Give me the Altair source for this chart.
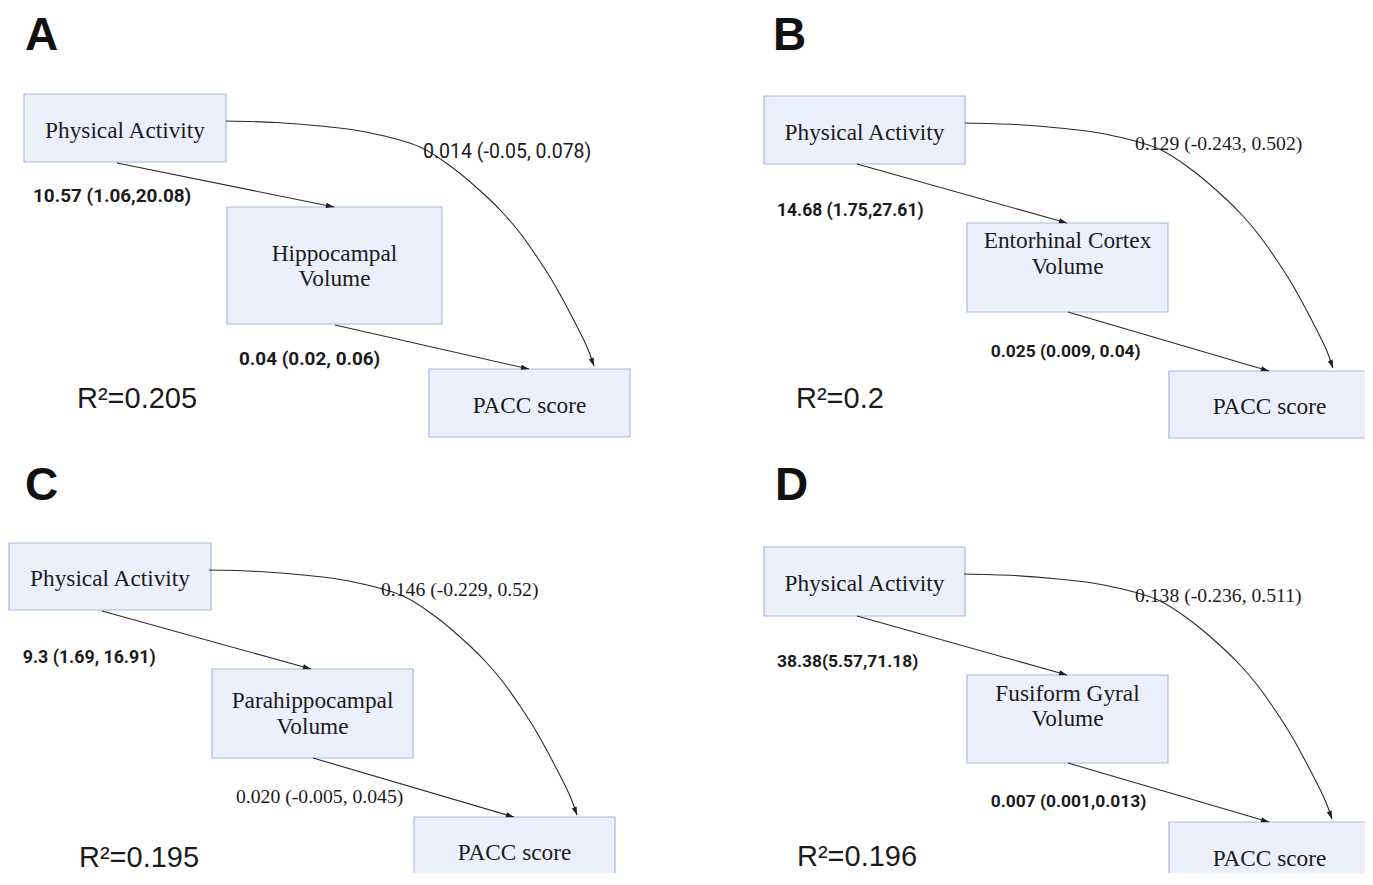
import math
import altair as alt
import pandas as pd

# ---------------- content ----------------
panel_letters = ["A", "B", "C", "D"]
predictor_label = "Physical Activity"
mediator_labels = ["Hippocampal\nVolume", "Entorhinal Cortex\nVolume",
                   "Parahippocampal\nVolume", "Fusiform Gyral\nVolume"]
outcome_label = "PACC score"
path_a_text = ["10.57 (1.06,20.08)", "14.68 (1.75,27.61)", "9.3 (1.69, 16.91)", "38.38(5.57,71.18)"]
path_b_text = ["0.04 (0.02, 0.06)", "0.025 (0.009, 0.04)", "0.020 (-0.005, 0.045)", "0.007 (0.001,0.013)"]
path_c_text = ["0.014 (-0.05, 0.078)", "0.129 (-0.243, 0.502)", "0.146 (-0.229, 0.52)", "0.138 (-0.236, 0.511)"]
r2_values = ["0.205", "0.2", "0.195", "0.196"]
path_a_style = ["bold", "bold", "bold", "bold"]
path_b_style = ["bold", "bold", "serif", "bold"]
path_c_style = ["sans", "serif", "serif", "serif"]

# ---------------- layout (pixel positions / sizes in the figure) ----------------
letter_pos = [(25, 50), (773, 50), (25, 500), (775, 500)]
pred_box = [(24, 94, 226, 162), (764, 96, 965, 164), (9, 543, 211, 610), (764, 547, 965, 616)]
med_box = [(227, 207, 442, 324), (967, 223, 1168, 312), (212, 669, 413, 758), (967, 675, 1168, 763)]
out_box = [(429, 369, 630, 437), (1169, 371, 1370, 438), (414, 817, 615, 884), (1169, 822, 1370, 884)]
pred_baseline = [137.5, 139.5, 586, 591]
med_baselines = [(261, 286), (248, 274), (708, 734), (700.7, 726)]
out_baseline = [412.7, 414, 859.5, 866]
arrow_a = [((117, 163), (334, 207)), ((857, 164), (1067, 223)),
           ((102, 611), (311, 669)), ((857, 616), (1067, 675))]
arrow_b = [((335, 325), (529, 369)), ((1068, 312), (1269, 371)),
           ((313, 758), (514, 817)), ((1068, 763), (1269, 822))]
curve_start = [(226, 121), (965, 123), (209, 570), (964, 574)]
curve_shape = [(0, 0), (50, 1.5), (94, 5), (140, 11), (194, 26), (227, 47), (261, 76),
               (277, 92), (294, 112), (311, 136), (327, 161), (344, 192), (361, 226), (368, 245)]
label_a_pos = [(33, 202), (777, 216), (22.7, 662.7), (777, 667)]
label_b_pos = [(239, 365), (990.7, 356.7), (236, 802.5), (990.7, 807.3)]
label_c_pos = [(423, 158), (1135, 150), (381, 595.7), (1135, 601.7)]
label_a_size = [18.9, 17.5, 17.8, 17.4]
label_b_size = [18.9, 17.4, 19.7, 17.4]
label_c_size = [19.5, 19.7, 19.7, 19.7]
r2_pos = [(77, 408), (796, 408), (79, 867), (797, 866)]

INK = "#1b1b1b"
FILL = "#ECF0FD"
EDGE = "#A8B8E4"
SERIF = "Liberation Serif"
SANS = "Roboto"

# ---------------- tables ----------------
boxes = []
for i in range(4):
    for b in (pred_box[i], med_box[i], out_box[i]):
        boxes.append(dict(x=b[0], y=b[1], x2=b[2], y2=b[3]))
boxes = pd.DataFrame(boxes)

node_text = []
for i in range(4):
    pb = pred_box[i]
    node_text.append(dict(x=(pb[0] + pb[2]) / 2, y=pred_baseline[i], t=predictor_label))
    mb = med_box[i]
    for line, yb in zip(mediator_labels[i].split("\n"), med_baselines[i]):
        node_text.append(dict(x=(mb[0] + mb[2]) / 2, y=yb, t=line))
    ob = out_box[i]
    node_text.append(dict(x=(ob[0] + ob[2]) / 2, y=out_baseline[i], t=outcome_label))
node_text = pd.DataFrame(node_text)

segs, heads, curve = [], [], []
def head_angle(p0, p1):
    dx, dy = p1[0] - p0[0], p1[1] - p0[1]
    return math.degrees(math.atan2(dx, -dy)) % 360

for i in range(4):
    for (p0, p1) in (arrow_a[i], arrow_b[i]):
        segs.append(dict(x=p0[0], y=p0[1], x2=p1[0], y2=p1[1]))
        heads.append(dict(x=p1[0], y=p1[1], angle=head_angle(p0, p1)))
    sx, sy = curve_start[i]
    pts = [(sx + dx, sy + dy) for dx, dy in curve_shape]
    for k, (px, py) in enumerate(pts):
        curve.append(dict(panel=panel_letters[i], k=k, x=px, y=py))
    heads.append(dict(x=pts[-1][0], y=pts[-1][1], angle=head_angle(pts[-2], pts[-1])))
segs, heads, curve = pd.DataFrame(segs), pd.DataFrame(heads), pd.DataFrame(curve)

coef = []
for texts, poss, styles, sizes in ((path_a_text, label_a_pos, path_a_style, label_a_size),
                                   (path_b_text, label_b_pos, path_b_style, label_b_size),
                                   (path_c_text, label_c_pos, path_c_style, label_c_size)):
    for t, p, s, fs in zip(texts, poss, styles, sizes):
        coef.append(dict(x=p[0], y=p[1], t=t, style=s, fs=fs))
coef = pd.DataFrame(coef)

letters = pd.DataFrame([dict(x=p[0], y=p[1], t=l) for l, p in zip(panel_letters, letter_pos)])
r2 = pd.DataFrame([dict(x=p[0], y=p[1], t="R\u00b2=" + v) for v, p in zip(r2_values, r2_pos)])

# ---------------- chart ----------------
X0, X1, Y0, Y1 = 8, 1365, 8, 873
xs = alt.Scale(domain=[X0, X1], nice=False, zero=False)
ys = alt.Scale(domain=[Y0, Y1], nice=False, zero=False, reverse=True)
X = lambda f="x": alt.X(f"{f}:Q", scale=xs, axis=None)
Y = lambda f="y": alt.Y(f"{f}:Q", scale=ys, axis=None)

rects = alt.Chart(boxes).mark_rect(fill=FILL, stroke=EDGE, strokeWidth=1.2).encode(
    x=X(), x2="x2:Q", y=Y(), y2="y2:Q")

rules = alt.Chart(segs).mark_rule(color="#2a2a2a", strokeWidth=1.1).encode(
    x=X(), x2="x2:Q", y=Y(), y2="y2:Q")

curves = alt.Chart(curve).mark_line(color="#2a2a2a", strokeWidth=1.1, interpolate="catmull-rom").encode(
    x=X(), y=Y(), detail="panel:N", order="k:Q")

arrowheads = alt.Chart(heads).mark_point(
    shape="M0,0L0.65,2L-0.65,2Z", filled=True, size=64, color="#1e1e1e", opacity=1, strokeWidth=0
).encode(x=X(), y=Y(), angle=alt.Angle("angle:Q", scale=None))

nodes = alt.Chart(node_text).mark_text(
    font=SERIF, fontSize=23.3, color=INK, align="center", baseline="alphabetic"
).encode(x=X(), y=Y(), text="t:N")

def coef_layer(style, font, weight):
    return alt.Chart(coef[coef["style"] == style]).mark_text(
        font=font, fontWeight=weight, color=INK, align="left", baseline="alphabetic"
    ).encode(x=X(), y=Y(), text="t:N", size=alt.Size("fs:Q", scale=None, legend=None))

coef_bold = coef_layer("bold", SANS, "bold")
coef_sans = coef_layer("sans", SANS, "normal")
coef_serif = coef_layer("serif", SERIF, "normal")

letters_l = alt.Chart(letters).mark_text(
    font="Liberation Sans", fontWeight="bold", fontSize=46, color="#111111",
    align="left", baseline="alphabetic").encode(x=X(), y=Y(), text="t:N")

r2_l = alt.Chart(r2).mark_text(
    font="Liberation Sans", fontSize=29, color=INK, align="left", baseline="alphabetic"
).encode(x=X(), y=Y(), text="t:N")

chart = alt.layer(
    rects, rules, curves, arrowheads, nodes, coef_bold, coef_sans, coef_serif, letters_l, r2_l
).properties(
    width=X1 - X0, height=Y1 - Y0, padding=0, autosize="none", background="white"
).configure_view(stroke=None)

chart.save("out.html", embed_options={"renderer": "svg", "actions": False})
